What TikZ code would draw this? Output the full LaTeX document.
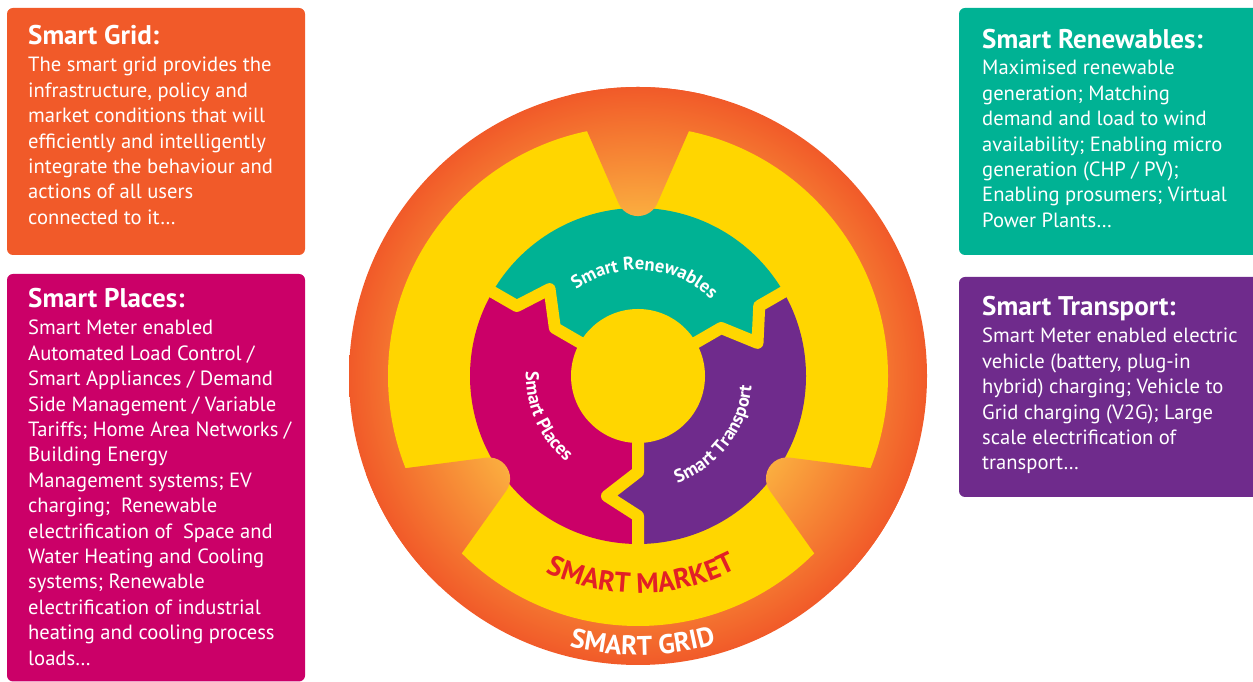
\documentclass[tikz,border=0pt]{standalone}
\usepackage{fontspec}
\setmainfont{PT Sans}
\usetikzlibrary{decorations.text}

\definecolor{gridorange}{RGB}{241,90,41}
\definecolor{placesmag}{RGB}{203,0,104}
\definecolor{renewteal}{RGB}{0,178,148}
\definecolor{transpurple}{RGB}{111,43,140}
\definecolor{marketyellow}{RGB}{255,214,0}
\definecolor{marketred}{RGB}{226,32,38}
\definecolor{glowin}{RGB}{251,176,64}
\definecolor{glowout}{RGB}{241,90,41}

% warm glow of the grid ring: light orange inside, red-orange at the rim
\pgfdeclareradialshading{gridglow}{\pgfpoint{0bp}{0bp}}{%
  color(0bp)=(glowin); color(13.5bp)=(glowin);
  color(25bp)=(glowout); color(50bp)=(glowout)}

\tikzset{
  infobox/.style={rounded corners=6pt},
  boxtitle/.style={anchor=base west, inner sep=0pt, text=white,
    font=\fontsize{27}{30}\selectfont\bfseries},
  % multi-line body text: the base anchor sits on the last line
  boxbody/.style={anchor=base west, inner sep=0pt, text=white, align=left,
    font=\fontsize{20.6}{25.4}\selectfont},
  gapline/.style={draw=marketyellow, line width=12pt, line join=round},
  glow/.style={shading=gridglow},
}

\begin{document}
\begin{tikzpicture}[x=1pt,y=1pt]
\useasboundingbox (0,0) rectangle (1253,682);

% ---------- description boxes ----------
\fill[gridorange, infobox]  (7,427)   rectangle (305,674);
\fill[placesmag, infobox]   (7,0.5)   rectangle (305,408);
\fill[renewteal, infobox]   (959,427) rectangle (1262,674);
\fill[transpurple, infobox] (959,185) rectangle (1262,405);

\node[boxtitle] (gridtitle) at (28,637) {Smart Grid:};
\node[boxbody] (gridbody) at (28,457.6) {The smart grid provides the\\
infrastructure, policy and\\
market conditions that will\\
efficiently and intelligently\\
integrate the behaviour and\\
actions of all users\\
connected to it…};

\node[boxtitle] (placestitle) at (28,374) {Smart Places:};
\node[boxbody] (placesbody) at (28,16.8) {Smart Meter enabled\\
Automated Load Control /\\
Smart Appliances / Demand\\
Side Management / Variable\\
Tariffs; Home Area Networks /\\
Building Energy\\
Management systems; EV\\
charging;~ Renewable\\
electrification of~ Space and\\
Water Heating and Cooling\\
systems; Renewable\\
electrification of industrial\\
heating and cooling process\\
loads…};

\node[boxtitle] (renewtitle) at (982,633) {Smart Renewables:};
\node[boxbody] (renewbody) at (982,454.6) {Maximised renewable\\
generation; Matching\\
demand and load to wind\\
availability; Enabling micro\\
generation (CHP / PV);\\
Enabling prosumers; Virtual\\
Power Plants…};

\node[boxtitle] (transtitle) at (982,366) {Smart Transport:};
\node[boxbody] (transbody) at (982,212) {Smart Meter enabled electric\\
vehicle (battery, plug-in\\
hybrid) charging; Vehicle to\\
Grid charging (V2G); Large\\
scale electrification of\\
transport…};

% ---------- concentric diagram ----------
\begin{scope}[shift={(638,306)}]
  % smart grid rim and smart market ring
  \shade[glow] (0,0) circle (289);
  \fill[marketyellow] (0,0) circle (250);

  % three interlocking segments
  \begin{scope}
    \clip (0,0) circle (168);
    \fill[renewteal] (0,0) -- (150:96) -- (135.5:124) -- (150:140) -- (150:200)
      -- (90:260) -- (30:200) -- (30:140) -- (15.5:124) -- (30:96) -- cycle;
    \fill[placesmag] (0,0) -- (150:96) -- (135.5:124) -- (150:140) -- (150:200)
      -- (210:260) -- (270:200) -- (270:140) -- (255.5:124) -- (270:96) -- cycle;
    \fill[transpurple] (0,0) -- (270:96) -- (255.5:124) -- (270:140) -- (270:200)
      -- (330:260) -- (30:200) -- (30:140) -- (15.5:124) -- (30:96) -- cycle;
  \end{scope}
  \draw[gapline] (150:55) -- (150:96) -- (135.5:124) -- (150:140) -- (150:180);
  \draw[gapline] (30:55) -- (30:96) -- (15.5:124) -- (30:140) -- (30:180);
  \draw[gapline] (270:55) -- (270:96) -- (255.5:124) -- (270:140) -- (270:180);
  \fill[marketyellow] (0,0) circle (67);

  % wedge-shaped openings of the market ring
  \begin{scope}
    \clip[shift={(90:128)}, rotate=90] (229,99.8) -- (44.6,19.4)
      arc[start angle=113.5, end angle=246.5, radius=21.1] -- (229,-99.8) -- cycle;
    \shade[glow] (0,0) circle (289);
  \end{scope}
  \begin{scope}
    \clip[shift={(216:128)}, rotate=211] (229,99.8) -- (44.6,19.4)
      arc[start angle=113.5, end angle=246.5, radius=21.1] -- (229,-99.8) -- cycle;
    \shade[glow] (0,0) circle (289);
  \end{scope}
  \begin{scope}
    \clip[shift={(324:128)}, rotate=329] (229,99.8) -- (44.6,19.4)
      arc[start angle=113.5, end angle=246.5, radius=21.1] -- (229,-99.8) -- cycle;
    \shade[glow] (0,0) circle (289);
  \end{scope}

  % curved labels
  \path[decorate, decoration={text along path, text align=center,
      text={|\fontsize{18.5}{20}\selectfont\bfseries\color{white}|Smart Renewables}}]
    (136:106) arc[start angle=136, end angle=36, radius=106];
  \path[decorate, decoration={text along path, text align=center,
      text={|\fontsize{18.5}{20}\selectfont\bfseries\color{white}|Smart Places}}]
    (164:112) arc[start angle=164, end angle=244, radius=112];
  \path[decorate, decoration={text along path, text align=center,
      text={|\fontsize{18.5}{20}\selectfont\bfseries\color{white}|Smart Transport}}]
    (-77.5:114) arc[start angle=-77.5, end angle=2.5, radius=114];
  \path[decorate, decoration={text along path, text align=center,
      text={|\fontsize{28}{30}\selectfont\bfseries\color{marketred}|SMART MARKET}}]
    (231:217) arc[start angle=231, end angle=311, radius=217];
  \path[decorate, decoration={text along path, text align=center,
      text={|\fontsize{27}{30}\selectfont\bfseries\color{white}|SMART GRID}}]
    (231:279) arc[start angle=231, end angle=311, radius=279];
\end{scope}
\end{tikzpicture}
\end{document}
